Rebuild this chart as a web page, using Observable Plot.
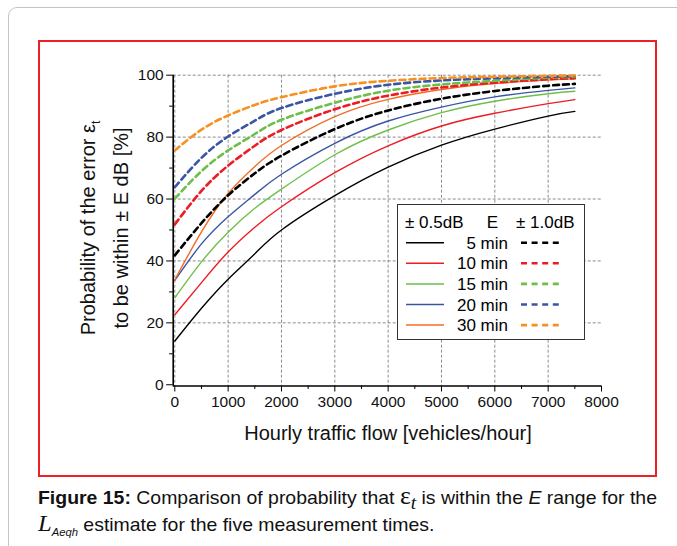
<!DOCTYPE html>
<html><head><meta charset="utf-8">
<script src="https://cdn.jsdelivr.net/npm/d3@7"></script>
<script src="https://cdn.jsdelivr.net/npm/@observablehq/plot@0.6"></script>
<style>
html,body{margin:0;padding:0}
body{width:677px;height:546px;overflow:hidden;background:#fff;font-family:"Liberation Sans",Arial,sans-serif;position:relative;color:#111}
#outer{position:absolute;left:8px;top:7px;width:720px;height:600px;border:1px solid #c4c4c4;border-radius:9px}
#redbox{position:absolute;left:38px;top:40px;width:615px;height:433px;border:2px solid #ec2127}
#chart{position:absolute;left:40px;top:42px}
#ytitle{position:absolute;left:-55px;top:195px;width:320px;height:66px;line-height:33px;font-size:20px;text-align:center;transform:rotate(-90deg);white-space:nowrap}
#xtitle{position:absolute;left:188px;top:420px;width:400px;text-align:center;font-size:20px;line-height:26px}
#legend{position:absolute;left:397px;top:204px;width:186px;height:134px;border:1px solid #333;background:#fff}
#caption{position:absolute;left:38px;top:484px;font-size:19px;line-height:27px;color:#111;transform-origin:0 0;white-space:nowrap}
#caption div{white-space:nowrap}
</style></head>
<body>
<div id="outer"></div>
<div id="redbox"></div>
<div id="chart"></div>
<div id="ytitle">Probability of the error ε<sub style="font-size:12px;line-height:0">t</sub><br>to be within ± E dB [%]</div>
<div id="xtitle">Hourly traffic flow [vehicles/hour]</div>
<div id="legend"></div>
<div id="caption">
<div id="cl1"><b>Figure 15:</b> Comparison of probability that <span style="font-family:'Liberation Serif',serif;font-size:25px;line-height:0">ε</span><sub style="font-style:italic;font-size:19px;line-height:0;font-family:'Liberation Serif',serif">t</sub> is within the <i>E</i> range for the</div>
<div><span style="font-family:'Liberation Serif',serif;font-style:italic;font-size:24px;line-height:0">L</span><sub style="font-style:italic;font-size:11px;line-height:0">Aeqh</sub> estimate for the five measurement times.</div>
</div>
<script>
// Data
const flow = [0, 500, 1000, 1500, 2000, 3000, 4000, 5000, 6000, 7000, 7500];
const durations = ["5 min", "10 min", "15 min", "20 min", "30 min"];
// E = ±0.5 dB (solid)
const p05_5  = [14.1, 24.7, 34.1, 42.3, 50.0, 61.1, 70.3, 77.4, 82.6, 86.8, 88.3];
const p05_10 = [22.6, 33.0, 42.9, 50.9, 57.5, 68.5, 77.2, 83.6, 87.7, 90.8, 92.1];
const p05_15 = [28.1, 39.7, 49.3, 57.0, 63.2, 74.3, 82.3, 87.9, 91.6, 94.0, 94.8];
const p05_20 = [33.7, 45.5, 54.3, 61.5, 68.0, 78.0, 85.2, 89.7, 93.0, 95.1, 95.9];
const p05_30 = [33.9, 49.4, 61.8, 70.5, 77.3, 86.6, 92.2, 95.4, 97.3, 98.4, 98.8];
// E = ±1.0 dB (dashed)
const p10_5  = [41.8, 52.2, 61.2, 68.3, 74.0, 82.6, 88.6, 92.4, 94.9, 96.6, 97.2];
const p10_10 = [51.8, 62.6, 70.8, 77.2, 82.3, 89.0, 93.4, 96.0, 97.6, 98.7, 99.0];
const p10_15 = [60.1, 69.0, 75.7, 81.0, 85.6, 91.1, 95.0, 97.0, 98.2, 99.2, 99.4];
const p10_20 = [63.8, 73.3, 80.2, 85.3, 89.4, 94.0, 96.9, 98.3, 99.0, 99.5, 99.7];
const p10_30 = [75.7, 82.4, 87.0, 90.4, 92.9, 96.4, 98.2, 99.1, 99.5, 99.8, 99.9];
const solidSeries = [p05_5, p05_10, p05_15, p05_20, p05_30];
const dashSeries = [p10_5, p10_10, p10_15, p10_20, p10_30];
const colors = ["#000000", "#ed1c24", "#6dbf4a", "#3b55a5", "#f46b24"];
const dashColors = ["#000000", "#ed1c24", "#6dbf4a", "#3b55a5", "#f7901e"];
const xTicks = [0, 1000, 2000, 3000, 4000, 5000, 6000, 7000, 8000];
const xMinor = [500, 1500, 2500, 3500, 4500, 5500, 6500, 7500];
const xGrid = [0, 1000, 2000, 3000, 4000, 5000, 6000, 7000];
const yTicks = [0, 20, 40, 60, 80, 100];
const yMinor = [10, 30, 50, 70, 90];
const yGrid = [20, 40, 60, 80, 100];
const legendHeader = ["± 0.5dB", "E", "± 1.0dB"];

const xDomain = [-30, 8000];
const yDomain = [-0.4, 100];

const toRows = arr => flow.map((f, i) => ({x: f, y: arr[i]}));

const marks = [
  Plot.gridX(xGrid, {stroke: "#8c8c8c", strokeOpacity: 1, strokeDasharray: "3,2", strokeWidth: 1}),
  Plot.gridY(yGrid, {stroke: "#8c8c8c", strokeOpacity: 1, strokeDasharray: "3,2", strokeWidth: 1}),
];
solidSeries.forEach((s, i) => marks.push(Plot.line(toRows(s), {x: "x", y: "y", stroke: colors[i], strokeWidth: 1.4, curve: "natural"})));
dashSeries.forEach((s, i) => marks.push(Plot.line(toRows(s), {x: "x", y: "y", stroke: dashColors[i], strokeWidth: 2.6, strokeDasharray: "6,4", curve: "natural"})));
marks.push(
  Plot.ruleX([xDomain[0]], {stroke: "#000", strokeWidth: 1.6}),
  Plot.ruleY([yDomain[0]], {stroke: "#000", strokeWidth: 1.6}),
  Plot.axisX(xTicks, {tickSize: 6, tickPadding: 4, label: null, tickFormat: d => String(d), stroke: "#000"}),
  Plot.axisX(xMinor, {tickSize: 3.5, label: null, tickFormat: () => "", stroke: "#000"}),
  Plot.axisY(yTicks, {tickSize: 6.5, tickPadding: 3, label: null, stroke: "#000"}),
  Plot.axisY(yMinor, {tickSize: 3.5, label: null, tickFormat: () => "", stroke: "#000"})
);

const chart = Plot.plot({
  width: 615, height: 433,
  marginLeft: 132.7, marginRight: 54, marginTop: 32.7, marginBottom: 89.5,
  x: {domain: xDomain, label: null},
  y: {domain: yDomain, label: null},
  style: {fontFamily: "'Liberation Sans', Arial, sans-serif", fontSize: "15.5px", color: "#111", background: "transparent"},
  marks
});
document.getElementById("chart").appendChild(chart);

// Legend
const lg = d3.select("#legend").append("svg").attr("width", 186).attr("height", 134)
  .style("font-family", "'Liberation Sans', Arial, sans-serif").style("font-size", "17px");
lg.append("text").attr("x", 7).attr("y", 23).text(legendHeader[0]);
lg.append("text").attr("x", 94.5).attr("y", 23).attr("text-anchor", "middle").text(legendHeader[1]);
lg.append("text").attr("x", 118).attr("y", 23).text(legendHeader[2]);
durations.forEach((d, i) => {
  const cy = 37.7 + i * 20.6;
  lg.append("line").attr("x1", 8).attr("x2", 46).attr("y1", cy).attr("y2", cy).attr("stroke", colors[i]).attr("stroke-width", 1.5);
  lg.append("text").attr("x", 110).attr("y", cy + 6).attr("text-anchor", "end").text(d);
  lg.append("line").attr("x1", 123).attr("x2", 161).attr("y1", cy).attr("y2", cy).attr("stroke", dashColors[i]).attr("stroke-width", 2.6).attr("stroke-dasharray", "6,4.6");
});

// Fit caption's first line to the red box width
const cap = document.getElementById("caption");
const w1 = document.getElementById("cl1").getBoundingClientRect().width;
cap.style.transform = `scaleX(${619 / w1})`;
</script>
</body></html>
